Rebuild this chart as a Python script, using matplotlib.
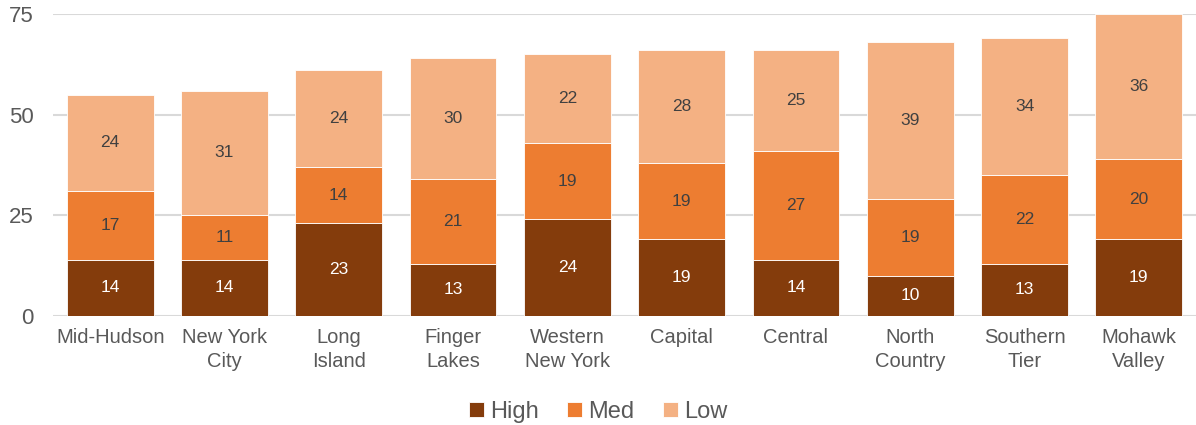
import numpy as np
import matplotlib.pyplot as plt

plt.rcParams['font.family'] = ['Liberation Sans', 'DejaVu Sans']

# regions and counts per priority level
regions = ['Mid-Hudson', 'New York\nCity', 'Long\nIsland', 'Finger\nLakes', 'Western\nNew York',
           'Capital', 'Central', 'North\nCountry', 'Southern\nTier', 'Mohawk\nValley']
high = [14, 14, 23, 13, 24, 19, 14, 10, 13, 19]
med = [17, 11, 14, 21, 19, 19, 27, 19, 22, 20]
low = [24, 31, 24, 30, 22, 28, 25, 39, 34, 36]

colors = ['#843C0C', '#ED7D31', '#F4B183']
txt_colors = ['white', '#404040', '#404040']
grey = '#595959'

fig = plt.figure(figsize=(11.96, 4.25), dpi=100)
ax = fig.add_axes([0.0443, 0.2565, 0.9557, 0.7105])

x = np.arange(len(regions))
bottom = np.zeros(len(regions))
for vals, name, c, tc in zip([high, med, low], ['High', 'Med', 'Low'], colors, txt_colors):
    vals = np.array(vals)
    bars = ax.bar(x, vals, 0.76, bottom=bottom, color=c, label=name,
                  edgecolor='white', linewidth=0.6, zorder=3)
    ax.bar_label(bars, labels=[str(v) for v in vals], label_type='center',
                 color=tc, fontsize=12.5)
    bottom += vals

ax.set_xlim(-0.5, len(regions) - 0.5)
ax.set_ylim(0, 75)
ax.set_yticks([0, 25, 50, 75])
ax.yaxis.grid(True, color='#D9D9D9', linewidth=1.5, zorder=0)
ax.set_axisbelow(True)
for s in ax.spines.values():
    s.set_visible(False)
ax.tick_params(axis='both', length=0, colors=grey)
ax.tick_params(axis='y', labelsize=16, pad=14)
ax.set_xticks(x)
ax.set_xticklabels(regions, fontsize=14.5, color=grey, linespacing=1.3)
ax.tick_params(axis='x', pad=9)

fig.legend(loc='lower center', bbox_to_anchor=(0.5, -0.045), ncol=3, frameon=False,
           fontsize=17, labelcolor=grey, handlelength=0.65, handleheight=0.65,
           handletextpad=0.25, columnspacing=1.2)

fig.savefig('out.png', dpi=100)
